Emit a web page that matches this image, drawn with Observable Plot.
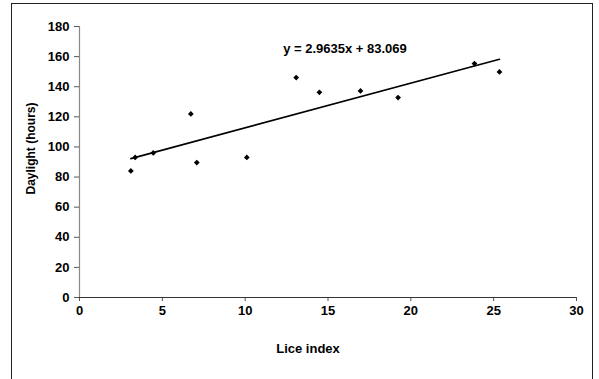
<!DOCTYPE html>
<html><head>
<meta charset="utf-8">
<script src="https://cdn.jsdelivr.net/npm/d3@7"></script>
<script src="https://cdn.jsdelivr.net/npm/@observablehq/plot@0.6"></script>
<style>
body{margin:0;background:#fff;}
#wrap{position:relative;width:599px;height:379px;overflow:hidden;background:#fff;}
#border{position:absolute;left:11px;top:3px;width:582px;height:420px;border:1.5px solid #222;box-sizing:border-box;}
#chart{position:absolute;left:0;top:0;}
</style></head><body>
<div id="wrap"><div id="border"></div><div id="chart"></div></div>
<script>
const liceIndex = [3.1, 3.36, 4.45, 6.72, 7.08, 10.1, 13.08, 14.48, 16.96, 19.23, 23.84, 25.35];
const daylight = [84.1, 93.0, 96.0, 121.9, 89.6, 93.0, 146.1, 136.3, 137.2, 132.8, 155.4, 149.8];
const slope = 2.9635;
const intercept = 83.069;
const equationLabel = "y = 2.9635x + 83.069";
const xTicks = [0, 5, 10, 15, 20, 25, 30];
const yTicks = [0, 20, 40, 60, 80, 100, 120, 140, 160, 180];
const xLabel = "Lice index";
const yLabel = "Daylight (hours)";

const points = liceIndex.map((x, i) => ({x, y: daylight[i]}));
const xExt = d3.extent(liceIndex);
const trend = xExt.map(x => ({x, y: slope * x + intercept}));

const chart = Plot.plot({
  width: 599,
  height: 379,
  marginLeft: 79,
  marginRight: 23,
  marginTop: 26,
  marginBottom: 82,
  style: {fontFamily: "'Liberation Sans', Arial, sans-serif", fontSize: "13px", fontWeight: "bold", background: "transparent", color: "#000"},
  x: {domain: [0, 30]},
  y: {domain: [0, 180]},
  marks: [
    Plot.axisY({ticks: yTicks, tickSize: 5, tickPadding: 5, label: null, stroke: "#555"}),
    Plot.axisX({ticks: xTicks, tickSize: 4, tickPadding: 4, label: null, stroke: "#555"}),
    Plot.ruleX([0], {stroke: "#888", strokeWidth: 1.2}),
    Plot.ruleY([0], {stroke: "#333", strokeWidth: 1.2}),
    Plot.line(trend, {x: "x", y: "y", stroke: "#000", strokeWidth: 1.6}),
    Plot.dot(points, {x: "x", y: "y", symbol: "diamond2", r: 2.6, fill: "#000", stroke: "none"}),
    Plot.text([equationLabel], {text: d => d, frameAnchor: "top", textAnchor: "middle", dx: 17, dy: 17, fontSize: 13, fontWeight: "bold"}),
    Plot.text([xLabel], {text: d => d, frameAnchor: "bottom", textAnchor: "middle", dx: -20, dy: 55, fontSize: 13, fontWeight: "bold"}),
    Plot.text([yLabel], {text: d => d, frameAnchor: "left", textAnchor: "middle", rotate: -90, dx: -48, dy: -13.5, fontSize: 12, fontWeight: "bold"})
  ]
});
document.getElementById("chart").appendChild(chart);
</script>
</body></html>
